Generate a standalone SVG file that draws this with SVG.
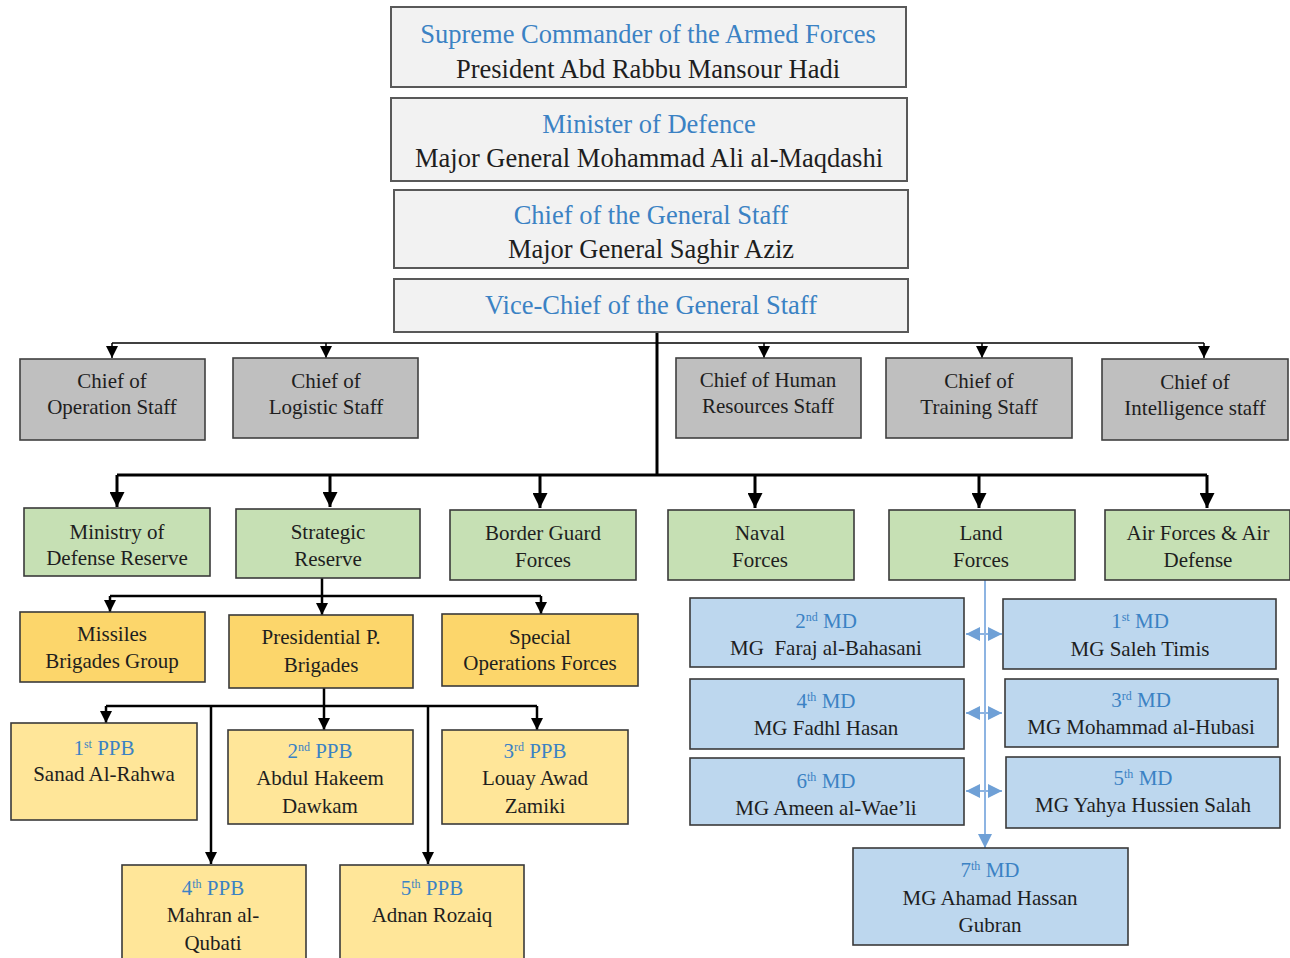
<svg xmlns="http://www.w3.org/2000/svg" width="1290" height="958" viewBox="0 0 1290 958">
<style>
text{font-family:"Liberation Serif","Times New Roman",serif;text-anchor:middle;fill:#1e1e1e}
.big{font-size:26.5px}
.sm{font-size:21px}
.blue{fill:#3b82c4}
.sup{font-size:12px}
.top{fill:#f2f2f2;stroke:#595959;stroke-width:2}
.gray{fill:#bfbfbf;stroke:#404040;stroke-width:1.6}
.green{fill:#c6e0b4;stroke:#3a3a3a;stroke-width:1.6}
.gold{fill:#fcd66b;stroke:#3a3a3a;stroke-width:1.6}
.lgold{fill:#ffe699;stroke:#3a3a3a;stroke-width:1.6}
.lblue{fill:#bdd7ee;stroke:#3a3a3a;stroke-width:1.6}
.c1{fill:none;stroke:#000;stroke-width:1.5}
.c2{fill:none;stroke:#000;stroke-width:2.5}
.c3{fill:none;stroke:#000;stroke-width:3}
.cb{fill:none;stroke:#8db4e2;stroke-width:2}
</style>
<defs>
<marker id="as" markerUnits="userSpaceOnUse" markerWidth="12" markerHeight="12" refX="10" refY="5" orient="auto" viewBox="0 0 10 10"><path d="M0,0 L10,5 L0,10 z" fill="#000"/></marker>
<marker id="al" markerUnits="userSpaceOnUse" markerWidth="15" markerHeight="15" refX="10" refY="5" orient="auto" viewBox="0 0 10 10"><path d="M0,0 L10,5 L0,10 z" fill="#000"/></marker>
<marker id="ab" markerUnits="userSpaceOnUse" markerWidth="14" markerHeight="14" refX="10" refY="5" orient="auto" viewBox="0 0 10 10"><path d="M0,0 L10,5 L0,10 z" fill="#6fa0d6"/></marker>
<marker id="abs" markerUnits="userSpaceOnUse" markerWidth="14" markerHeight="14" refX="0" refY="5" orient="auto" viewBox="0 0 10 10"><path d="M10,0 L0,5 L10,10 z" fill="#6fa0d6"/></marker>
</defs>

<g id="connectors">
<path class="c1" d="M112,343 H1204"/>
<path class="c1" d="M112,343 V358" marker-end="url(#as)"/>
<path class="c1" d="M326,343 V358" marker-end="url(#as)"/>
<path class="c1" d="M764,343 V358" marker-end="url(#as)"/>
<path class="c1" d="M982,343 V358" marker-end="url(#as)"/>
<path class="c1" d="M1204,343 V358" marker-end="url(#as)"/>
<path class="c3" d="M657,332 V475"/>
<path class="c3" d="M117,475 H1207"/>
<path class="c3" d="M117,475 V507" marker-end="url(#al)"/>
<path class="c3" d="M330,475 V507" marker-end="url(#al)"/>
<path class="c3" d="M540,475 V508" marker-end="url(#al)"/>
<path class="c3" d="M755,475 V508" marker-end="url(#al)"/>
<path class="c3" d="M979,475 V508" marker-end="url(#al)"/>
<path class="c3" d="M1207,475 V508" marker-end="url(#al)"/>
<path class="c2" d="M322,578 V596"/>
<path class="c2" d="M110,596 H541"/>
<path class="c2" d="M110,596 V612" marker-end="url(#as)"/>
<path class="c2" d="M322,596 V615" marker-end="url(#as)"/>
<path class="c2" d="M541,596 V614" marker-end="url(#as)"/>
<path class="c2" d="M324,688 V706"/>
<path class="c2" d="M106,706 H537"/>
<path class="c2" d="M106,706 V723" marker-end="url(#as)"/>
<path class="c2" d="M324,706 V730" marker-end="url(#as)"/>
<path class="c2" d="M537,706 V730" marker-end="url(#as)"/>
<path class="c2" d="M211,706 V864" marker-end="url(#as)"/>
<path class="c2" d="M428,706 V864" marker-end="url(#as)"/>
<path class="cb" d="M985,580 V848" marker-end="url(#ab)"/>
<path class="cb" d="M966,634 H1002" marker-start="url(#abs)" marker-end="url(#ab)"/>
<path class="cb" d="M966,713 H1002" marker-start="url(#abs)" marker-end="url(#ab)"/>
<path class="cb" d="M966,791 H1002" marker-start="url(#abs)" marker-end="url(#ab)"/>
</g>

<g id="supreme"><rect class="top" x="391" y="7" width="515" height="80"/>
<text class="big blue" x="648" y="43">Supreme Commander of the Armed Forces</text>
<text class="big" x="648" y="78">President Abd Rabbu Mansour Hadi</text></g>
<g id="minister"><rect class="top" x="391" y="98" width="516" height="83"/>
<text class="big blue" x="649" y="133">Minister of Defence</text>
<text class="big" x="649" y="167">Major General Mohammad Ali al-Maqdashi</text></g>
<g id="chief-gs"><rect class="top" x="394" y="190" width="514" height="78"/>
<text class="big blue" x="651" y="224">Chief of the General Staff</text>
<text class="big" x="651" y="258">Major General Saghir Aziz</text></g>
<g id="vice-chief"><rect class="top" x="394" y="279" width="514" height="53"/>
<text class="big blue" x="651" y="314">Vice-Chief of the General Staff</text></g>

<g id="operation"><rect class="gray" x="20" y="359" width="185" height="81"/>
<text class="sm" x="112" y="388">Chief of</text><text class="sm" x="112" y="414">Operation Staff</text></g>
<g id="logistic"><rect class="gray" x="233" y="358" width="185" height="80"/>
<text class="sm" x="326" y="388">Chief of</text><text class="sm" x="326" y="414">Logistic Staff</text></g>
<g id="human"><rect class="gray" x="676" y="358" width="185" height="80"/>
<text class="sm" x="768" y="387">Chief of Human</text><text class="sm" x="768" y="413">Resources Staff</text></g>
<g id="training"><rect class="gray" x="886" y="358" width="186" height="80"/>
<text class="sm" x="979" y="388">Chief of</text><text class="sm" x="979" y="414">Training Staff</text></g>
<g id="intelligence"><rect class="gray" x="1102" y="359" width="186" height="81"/>
<text class="sm" x="1195" y="389">Chief of</text><text class="sm" x="1195" y="415">Intelligence staff</text></g>

<g id="mod-reserve"><rect class="green" x="24" y="508" width="186" height="68"/>
<text class="sm" x="117" y="539">Ministry of</text><text class="sm" x="117" y="565">Defense Reserve</text></g>
<g id="strategic"><rect class="green" x="236" y="509" width="184" height="69"/>
<text class="sm" x="328" y="539">Strategic</text><text class="sm" x="328" y="566">Reserve</text></g>
<g id="border"><rect class="green" x="450" y="510" width="186" height="70"/>
<text class="sm" x="543" y="540">Border Guard</text><text class="sm" x="543" y="567">Forces</text></g>
<g id="naval"><rect class="green" x="668" y="510" width="186" height="70"/>
<text class="sm" x="760" y="540">Naval</text><text class="sm" x="760" y="567">Forces</text></g>
<g id="land"><rect class="green" x="889" y="510" width="186" height="70"/>
<text class="sm" x="981" y="540">Land</text><text class="sm" x="981" y="567">Forces</text></g>
<g id="air"><rect class="green" x="1105" y="510" width="185" height="70"/>
<text class="sm" x="1198" y="540">Air Forces &amp; Air</text><text class="sm" x="1198" y="567">Defense</text></g>

<g id="missiles"><rect class="gold" x="20" y="612" width="185" height="70"/>
<text class="sm" x="112" y="641">Missiles</text><text class="sm" x="112" y="668">Brigades Group</text></g>
<g id="presidential"><rect class="gold" x="229" y="615" width="184" height="73"/>
<text class="sm" x="321" y="644">Presidential P.</text><text class="sm" x="321" y="672">Brigades</text></g>
<g id="special"><rect class="gold" x="442" y="614" width="196" height="72"/>
<text class="sm" x="540" y="644">Special</text><text class="sm" x="540" y="670">Operations Forces</text></g>

<g id="ppb1"><rect class="lgold" x="11" y="723" width="186" height="97"/>
<text class="sm" x="104" y="755"><tspan class="blue">1</tspan><tspan class="blue sup" dy="-7">st</tspan><tspan class="blue" dy="7"> PPB</tspan></text>
<text class="sm" x="104" y="781">Sanad Al-Rahwa</text></g>
<g id="ppb2"><rect class="lgold" x="228" y="730" width="185" height="94"/>
<text class="sm" x="320" y="758"><tspan class="blue">2</tspan><tspan class="blue sup" dy="-7">nd</tspan><tspan class="blue" dy="7"> PPB</tspan></text>
<text class="sm" x="320" y="785">Abdul Hakeem</text><text class="sm" x="320" y="813">Dawkam</text></g>
<g id="ppb3"><rect class="lgold" x="442" y="730" width="186" height="94"/>
<text class="sm" x="535" y="758"><tspan class="blue">3</tspan><tspan class="blue sup" dy="-7">rd</tspan><tspan class="blue" dy="7"> PPB</tspan></text>
<text class="sm" x="535" y="785">Louay Awad</text><text class="sm" x="535" y="813">Zamiki</text></g>
<g id="ppb4"><rect class="lgold" x="122" y="865" width="184" height="100"/>
<text class="sm" x="213" y="895"><tspan class="blue">4</tspan><tspan class="blue sup" dy="-7">th</tspan><tspan class="blue" dy="7"> PPB</tspan></text>
<text class="sm" x="213" y="922">Mahran al-</text><text class="sm" x="213" y="950">Qubati</text></g>
<g id="ppb5"><rect class="lgold" x="340" y="865" width="184" height="100"/>
<text class="sm" x="432" y="895"><tspan class="blue">5</tspan><tspan class="blue sup" dy="-7">th</tspan><tspan class="blue" dy="7"> PPB</tspan></text>
<text class="sm" x="432" y="922">Adnan Rozaiq</text></g>

<g id="md2"><rect class="lblue" x="690" y="598" width="274" height="69"/>
<text class="sm" x="826" y="628"><tspan class="blue">2</tspan><tspan class="blue sup" dy="-7">nd</tspan><tspan class="blue" dy="7"> MD</tspan></text>
<text class="sm" x="826" y="655" xml:space="preserve">MG  Faraj al-Bahasani</text></g>
<g id="md1"><rect class="lblue" x="1003" y="599" width="273" height="70"/>
<text class="sm" x="1140" y="628"><tspan class="blue">1</tspan><tspan class="blue sup" dy="-7">st</tspan><tspan class="blue" dy="7"> MD</tspan></text>
<text class="sm" x="1140" y="656">MG Saleh Timis</text></g>
<g id="md4"><rect class="lblue" x="690" y="679" width="274" height="70"/>
<text class="sm" x="826" y="708"><tspan class="blue">4</tspan><tspan class="blue sup" dy="-7">th</tspan><tspan class="blue" dy="7"> MD</tspan></text>
<text class="sm" x="826" y="735">MG Fadhl Hasan</text></g>
<g id="md3"><rect class="lblue" x="1005" y="679" width="273" height="68"/>
<text class="sm" x="1141" y="707"><tspan class="blue">3</tspan><tspan class="blue sup" dy="-7">rd</tspan><tspan class="blue" dy="7"> MD</tspan></text>
<text class="sm" x="1141" y="734">MG Mohammad al-Hubasi</text></g>
<g id="md6"><rect class="lblue" x="690" y="758" width="274" height="67"/>
<text class="sm" x="826" y="788"><tspan class="blue">6</tspan><tspan class="blue sup" dy="-7">th</tspan><tspan class="blue" dy="7"> MD</tspan></text>
<text class="sm" x="826" y="815">MG Ameen al-Wae’li</text></g>
<g id="md5"><rect class="lblue" x="1006" y="757" width="274" height="71"/>
<text class="sm" x="1143" y="785"><tspan class="blue">5</tspan><tspan class="blue sup" dy="-7">th</tspan><tspan class="blue" dy="7"> MD</tspan></text>
<text class="sm" x="1143" y="812">MG Yahya Hussien Salah</text></g>
<g id="md7"><rect class="lblue" x="853" y="848" width="275" height="97"/>
<text class="sm" x="990" y="877"><tspan class="blue">7</tspan><tspan class="blue sup" dy="-7">th</tspan><tspan class="blue" dy="7"> MD</tspan></text>
<text class="sm" x="990" y="905">MG Ahamad Hassan</text><text class="sm" x="990" y="932">Gubran</text></g>
</svg>
